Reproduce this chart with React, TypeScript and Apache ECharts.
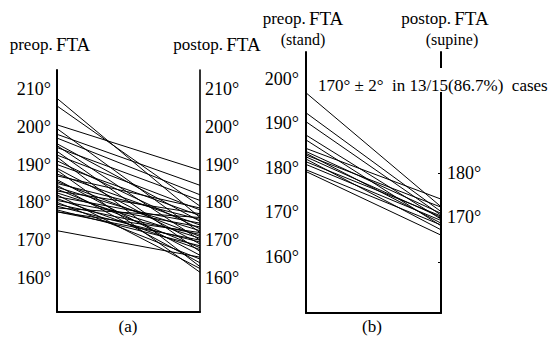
import React, { useEffect, useRef } from "react";
import * as echarts from "echarts";

// ---- Data ----
const stages = ["preop.", "postop."];

// panel (a): preop. FTA -> postop. FTA (degrees)
const preA = [207.5, 205.5, 200.5, 199.5, 198, 197, 195.5, 195, 194.5, 193.5, 192.5, 192, 191, 190, 189, 188.5, 187.5, 187, 186, 185.5, 185, 184.5, 184, 183.5, 183, 182.5, 182, 181.5, 181, 180.5, 180, 179.5, 179, 178.5, 178, 177.5, 177.5, 172.5];
const postA = [176, 179, 188.5, 172, 184.5, 182, 175, 170, 180.5, 167, 178, 163, 173, 176.5, 169, 161.5, 174, 178.5, 166, 171, 175.5, 164, 172.5, 168, 177, 170.5, 162.5, 174.5, 167.5, 173.5, 165, 171.5, 169.5, 176, 168.5, 172, 170, 165.5];

// panel (b): preop. FTA (stand) -> postop. FTA (supine)
const preB = [196.9, 192.4, 190.4, 187.4, 186.3, 184.4, 183.7, 183.3, 182.9, 182.5, 182, 181.4, 180.8, 179.6, 179.2];
const postB = [171.3, 170.2, 169.4, 168.5, 167.0, 173.0, 169.8, 167.6, 171.2, 168.9, 166.1, 169.2, 168.2, 167.2, 164.9];

const ticksA = [160, 170, 180, 190, 200, 210];
const ticksBLeft = [160, 170, 180, 190, 200];
const ticksBRight = [170, 180];
const tickMarksBRight = [160, 170, 180];

const SERIF = "Liberation Serif";

export default function App() {
  const ref = useRef<HTMLDivElement>(null);
  useEffect(() => {
    if (!ref.current) return;
    const chart = echarts.init(ref.current, null, { renderer: "svg" });
    const deg = (v: number) => `${v}°`;
    const lblStyle = { color: "#000", fontFamily: SERIF, fontSize: 18 };
    const lineSeries = (pre: number[], post: number[], xi: number, yi: number) =>
      pre.map((p, i) => ({
        type: "line",
        xAxisIndex: xi,
        yAxisIndex: yi,
        data: [p, post[i]],
        symbol: "none",
        silent: true,
        lineStyle: { color: "#000", width: 1 },
      }));

    const titleRich = {
      a: { fontFamily: SERIF, fontSize: 17, color: "#000" },
      b: { fontFamily: SERIF, fontSize: 19, color: "#000" },
    };

    chart.setOption({
      animation: false,
      backgroundColor: "#fff",
      grid: [
        { left: 57, top: 70, width: 143, height: 242 },
        { left: 306, top: 52, width: 135, height: 261 },
      ],
      xAxis: [
        {
          gridIndex: 0,
          type: "category",
          data: stages,
          boundaryGap: false,
          axisLine: { lineStyle: { color: "#000", width: 2 } },
          axisTick: { show: false },
          axisLabel: { show: false },
        },
        {
          gridIndex: 1,
          type: "category",
          data: stages,
          boundaryGap: false,
          axisLine: { lineStyle: { color: "#000", width: 2 } },
          axisTick: { show: false },
          axisLabel: { show: false },
        },
      ],
      yAxis: [
        {
          gridIndex: 0,
          type: "value",
          min: 151,
          max: 215,
          position: "left",
          splitLine: { show: false },
          axisLine: { show: true, lineStyle: { color: "#000", width: 2 } },
          axisTick: { show: false },
          axisLabel: { ...lblStyle, margin: 6, formatter: deg, customValues: ticksA },
        },
        {
          gridIndex: 0,
          type: "value",
          min: 151,
          max: 215,
          position: "right",
          splitLine: { show: false },
          axisLine: { show: true, lineStyle: { color: "#000", width: 1.6 } },
          axisTick: { show: false },
          axisLabel: { ...lblStyle, margin: 5, formatter: deg, customValues: ticksA },
        },
        {
          gridIndex: 1,
          type: "value",
          min: 147.4,
          max: 206.07,
          position: "left",
          splitLine: { show: false },
          axisLine: { show: true, lineStyle: { color: "#000", width: 2 } },
          axisTick: { show: false },
          axisLabel: { ...lblStyle, margin: 7, formatter: deg, customValues: ticksBLeft },
        },
        {
          gridIndex: 1,
          type: "value",
          min: 148.5,
          max: 207.17,
          position: "right",
          splitLine: { show: false },
          axisLine: { show: true, lineStyle: { color: "#000", width: 2 } },
          axisTick: { show: true, inside: true, length: 3, lineStyle: { color: "#000", width: 1 }, customValues: tickMarksBRight },
          axisLabel: { ...lblStyle, margin: 6, formatter: deg, customValues: ticksBRight },
        },
      ],
      series: [...lineSeries(preA, postA, 0, 0), ...lineSeries(preB, postB, 1, 2)],
      graphic: [
        { type: "rect", z: 100, shape: { x: 435, y: 68, width: 12, height: 24 }, style: { fill: "#fff" } },
        {
          type: "text", z: 101, x: 50, y: 44,
          style: { text: "{a|preop.} {b|FTA}", rich: titleRich, align: "center", verticalAlign: "middle" },
        },
        {
          type: "text", z: 101, x: 217, y: 44,
          style: { text: "{a|postop.} {b|FTA}", rich: titleRich, align: "center", verticalAlign: "middle" },
        },
        {
          type: "text", z: 101, x: 303, y: 18,
          style: { text: "{a|preop.} {b|FTA}", rich: titleRich, align: "center", verticalAlign: "middle" },
        },
        {
          type: "text", z: 101, x: 303, y: 39,
          style: { text: "(stand)", fontFamily: SERIF, fontSize: 16, fill: "#000", align: "center", verticalAlign: "middle" },
        },
        {
          type: "text", z: 101, x: 445, y: 18,
          style: { text: "{a|postop.} {b|FTA}", rich: titleRich, align: "center", verticalAlign: "middle" },
        },
        {
          type: "text", z: 101, x: 452, y: 39,
          style: { text: "(supine)", fontFamily: SERIF, fontSize: 16, fill: "#000", align: "center", verticalAlign: "middle" },
        },
        {
          type: "text", z: 101, x: 318, y: 85,
          style: {
            text: "170° ± 2°  in 13/15(86.7%)  cases",
            fontFamily: SERIF, fontSize: 17, fill: "#000", align: "left", verticalAlign: "middle",
          },
        },
        {
          type: "text", z: 101, x: 128, y: 326,
          style: { text: "(a)", fontFamily: SERIF, fontSize: 17, fill: "#000", align: "center", verticalAlign: "middle" },
        },
        {
          type: "text", z: 101, x: 372, y: 326,
          style: { text: "(b)", fontFamily: SERIF, fontSize: 17, fill: "#000", align: "center", verticalAlign: "middle" },
        },
      ],
    });
    return () => chart.dispose();
  }, []);
  return (
    <div
      ref={ref}
      style={{ position: "fixed", left: 0, top: 0, width: 554, height: 341, background: "#fff" }}
    />
  );
}
